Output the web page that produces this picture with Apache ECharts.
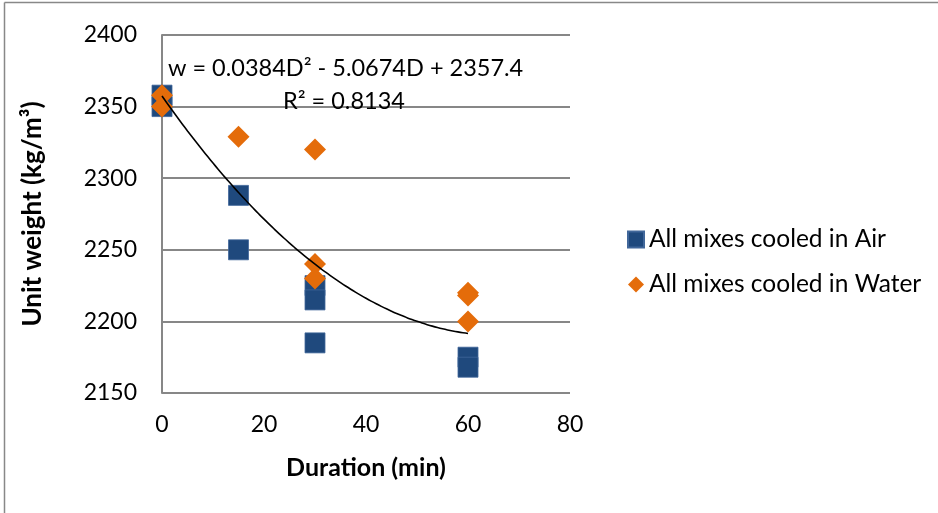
<!DOCTYPE html>
<html>
<head>
<meta charset="utf-8">
<script src="https://cdn.jsdelivr.net/npm/echarts@6/dist/echarts.min.js"></script>
<style>
  html, body { margin: 0; padding: 0; background: #fff; }
  #chart { width: 938px; height: 513px; }
</style>
</head>
<body>
<div id="chart"></div>
<script>
// Unit weight of mixes after heating, by cooling method and duration
const airDuration   = [0, 0, 15, 15, 30, 30, 30, 60, 60];
const airWeight     = [2358, 2350, 2288, 2250, 2225, 2215, 2185, 2175, 2168];
const waterDuration = [0, 0, 15, 30, 30, 30, 60, 60, 60];
const waterWeight   = [2358, 2350, 2329, 2320, 2240, 2230, 2220, 2218, 2200];

// Second-order polynomial trendline: w = a*D^2 + b*D + c, fitted over 0..60 min
const trendCoef = [0.0384, -5.0674, 2357.4];
const trendRange = [0, 60];

const xTicks = [0, 20, 40, 60, 80];
const yTicks = [2150, 2200, 2250, 2300, 2350, 2400];

const FONT = 'Lato, "Open Sans", sans-serif';

const zip = (xs, ys) => xs.map((x, i) => [x, ys[i]]);
const trendPts = [];
for (let d = trendRange[0]; d <= trendRange[1]; d += 1) {
  trendPts.push([d, trendCoef[0] * d * d + trendCoef[1] * d + trendCoef[2]]);
}

const chart = echarts.init(document.getElementById('chart'), null, { renderer: 'canvas' });
chart.setOption({
  animation: false,
  backgroundColor: '#ffffff',
  grid: { left: 162, right: 368, top: 35, bottom: 120, containLabel: false },
  xAxis: {
    type: 'value',
    min: xTicks[0], max: xTicks[xTicks.length - 1], interval: 20,
    name: 'Duration (min)', nameLocation: 'middle', nameGap: 62,
    nameTextStyle: { fontFamily: FONT, fontWeight: 'bold', fontSize: 25, color: '#000' },
    axisLine: { show: false },
    axisTick: { show: false },
    splitLine: { show: false },
    axisLabel: { fontFamily: FONT, fontSize: 23, color: '#000', margin: 20, formatter: v => String(v) }
  },
  yAxis: {
    type: 'value',
    min: yTicks[0], max: yTicks[yTicks.length - 1], interval: 50,
    name: 'Unit weight (kg/m³)', nameLocation: 'middle', nameGap: 116, nameRotate: 90,
    nameTextStyle: { fontFamily: FONT, fontWeight: 'bold', fontSize: 26, color: '#000' },
    axisLine: { show: true, lineStyle: { color: '#878787', width: 2 } },
    axisTick: { show: false },
    splitLine: { show: true, lineStyle: { color: '#878787', width: 2 } },
    axisLabel: { fontFamily: FONT, fontSize: 23, color: '#000', margin: 25, formatter: v => String(v) }
  },
  legend: {
    orient: 'vertical',
    left: 622, top: 222,
    itemWidth: 16, itemHeight: 16, itemGap: 20,
    textStyle: { fontFamily: FONT, fontSize: 24.5, color: '#000' },
    data: [
      { name: 'All mixes cooled in Air', icon: 'rect' },
      { name: 'All mixes cooled in Water', icon: 'diamond' }
    ]
  },
  series: [
    {
      name: 'All mixes cooled in Air',
      type: 'scatter',
      symbol: 'rect',
      symbolSize: 20,
      itemStyle: { color: '#1F497D', opacity: 1, borderColor: '#41679A', borderWidth: 0.8 },
      data: zip(airDuration, airWeight),
      z: 2
    },
    {
      name: 'All mixes cooled in Water',
      type: 'scatter',
      symbol: 'diamond',
      symbolSize: 22,
      itemStyle: { color: '#E46C0A', opacity: 1 },
      data: zip(waterDuration, waterWeight),
      z: 3
    },
    {
      name: 'Poly. trend',
      type: 'line',
      showSymbol: false,
      symbol: 'none',
      smooth: true,
      lineStyle: { color: '#000', width: 1.6 },
      data: trendPts,
      z: 4,
      silent: true
    }
  ],
  graphic: [
    // outer frame (left and top edges)
    { type: 'line', shape: { x1: 4.5, y1: 2.5, x2: 938, y2: 2.5 }, style: { stroke: '#888', lineWidth: 1.5 } },
    { type: 'line', shape: { x1: 4.5, y1: 2.5, x2: 4.5, y2: 513 }, style: { stroke: '#888', lineWidth: 1.5 } },
    {
      type: 'text', left: 168, top: 56, z: 10,
      style: { text: 'w = 0.0384D² - 5.0674D + 2357.4', font: '23.5px ' + FONT, fill: '#000' }
    },
    {
      type: 'text', left: 283, top: 89, z: 10,
      style: { text: 'R² = 0.8134', font: '23.5px ' + FONT, fill: '#000' }
    }
  ]
});
</script>
</body>
</html>
